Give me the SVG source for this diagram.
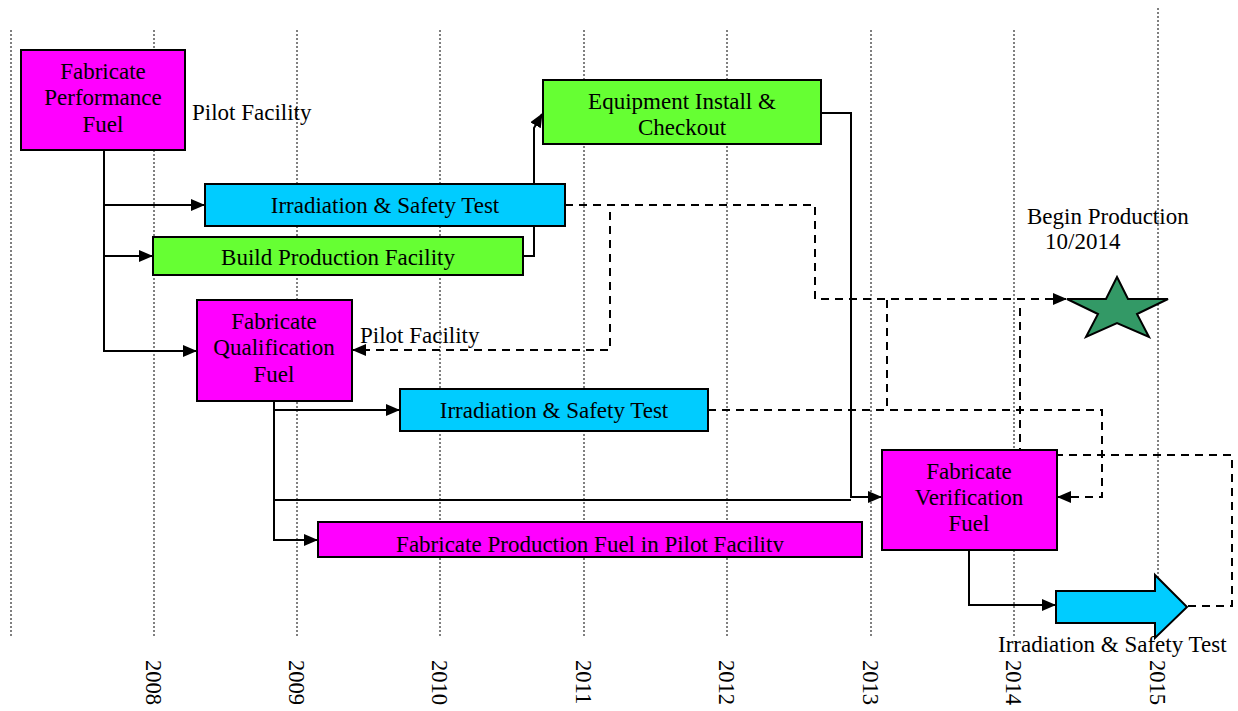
<svg xmlns="http://www.w3.org/2000/svg" width="1238" height="711" viewBox="0 0 1238 711">
<style>
.grid{stroke:#000;stroke-width:1;stroke-dasharray:2,2;fill:none}
.box{stroke:#000;stroke-width:2}
.mag{fill:#FF00FF}
.cyan{fill:#00CCFF}
.green{fill:#66FF33}
.t{font-family:"Liberation Serif","Times New Roman",serif;font-size:23px;fill:#000}
.c{text-anchor:middle}
.solid{stroke:#000;stroke-width:2;fill:none}
.dash{stroke:#000;stroke-width:2;fill:none;stroke-dasharray:8,6}
.yr{font-family:"Liberation Serif","Times New Roman",serif;font-size:22.5px;fill:#000}
</style>
<defs>
<marker id="ah" markerUnits="userSpaceOnUse" markerWidth="14" markerHeight="12" refX="13" refY="6" orient="auto">
<path d="M0,0 L14,6 L0,12 Z" fill="#000"/>
</marker>
<clipPath id="clipFP"><rect x="318" y="522" width="544" height="30"/></clipPath>
</defs>
<rect width="1238" height="711" fill="#fff"/>
<g id="grid">
<line class="grid" x1="11" y1="30" x2="11" y2="636"/>
<line class="grid" x1="154" y1="30" x2="154" y2="636"/>
<line class="grid" x1="297" y1="30" x2="297" y2="636"/>
<line class="grid" x1="440" y1="30" x2="440" y2="636"/>
<line class="grid" x1="584" y1="30" x2="584" y2="636"/>
<line class="grid" x1="727" y1="30" x2="727" y2="636"/>
<line class="grid" x1="871" y1="30" x2="871" y2="636"/>
<line class="grid" x1="1014" y1="30" x2="1014" y2="636"/>
<line class="grid" x1="1158" y1="8" x2="1158" y2="636"/>
</g>
<g id="years">
<text class="yr" transform="translate(146,660) rotate(90)">2008</text>
<text class="yr" transform="translate(289,660) rotate(90)">2009</text>
<text class="yr" transform="translate(432,660) rotate(90)">2010</text>
<text class="yr" transform="translate(576,660) rotate(90)">2011</text>
<text class="yr" transform="translate(719,660) rotate(90)">2012</text>
<text class="yr" transform="translate(863,660) rotate(90)">2013</text>
<text class="yr" transform="translate(1006,660) rotate(90)">2014</text>
<text class="yr" transform="translate(1150,660) rotate(90)">2015</text>
</g>
<g id="connectors">
<path class="solid" d="M104,150 V351 H196" marker-end="url(#ah)"/>
<path class="solid" d="M104,205 H204" marker-end="url(#ah)"/>
<path class="solid" d="M104,256 H152" marker-end="url(#ah)"/>
<path class="solid" d="M523,256 H534 V128 L542,114" marker-end="url(#ah)"/>
<path class="solid" d="M821,113 H851 V497 H881" marker-end="url(#ah)"/>
<path class="solid" d="M274,401 V540 H317" marker-end="url(#ah)"/>
<path class="solid" d="M274,410 H399" marker-end="url(#ah)"/>
<path class="solid" d="M274,500 H851"/>
<path class="solid" d="M969,550 V605 H1055" marker-end="url(#ah)"/>
<path class="dash" d="M565,205 H815 V299 H1066" marker-end="url(#ah)"/>
<path class="dash" d="M610,212 V350 H353" marker-end="url(#ah)"/>
<path class="dash" d="M708,410 H1102 V497 H1058" marker-end="url(#ah)"/>
<path class="dash" d="M887,300 V410"/>
<path class="dash" d="M1188,606 H1232 V455 H1020 V303"/>
</g>
<g id="perf-fuel">
<rect class="box mag" x="21" y="50" width="164" height="100"/>
<text class="t c" x="103" y="79">Fabricate</text>
<text class="t c" x="103" y="105">Performance</text>
<text class="t c" x="103" y="132">Fuel</text>
</g>
<g id="pilot-label-1"><text class="t" x="192" y="120">Pilot Facility</text></g>
<g id="irr-1">
<rect class="box cyan" x="205" y="184" width="360" height="42"/>
<text class="t c" x="385" y="213">Irradiation &amp; Safety Test</text>
</g>
<g id="build">
<rect class="box green" x="153" y="237" width="370" height="38"/>
<text class="t c" x="338" y="265">Build Production Facility</text>
</g>
<g id="equip">
<rect class="box green" x="543" y="80" width="278" height="64"/>
<text class="t c" x="682" y="109">Equipment Install &amp;</text>
<text class="t c" x="682" y="135">Checkout</text>
</g>
<g id="qual-fuel">
<rect class="box mag" x="197" y="300" width="155" height="101"/>
<text class="t c" x="274" y="329">Fabricate</text>
<text class="t c" x="274" y="355">Qualification</text>
<text class="t c" x="274" y="382">Fuel</text>
</g>
<g id="pilot-label-2"><text class="t" x="360" y="343">Pilot Facility</text></g>
<g id="irr-2">
<rect class="box cyan" x="400" y="389" width="308" height="42"/>
<text class="t c" x="554" y="418">Irradiation &amp; Safety Test</text>
</g>
<g id="prod-fuel">
<rect class="box mag" x="318" y="522" width="544" height="35"/>
<text class="t c" x="590" y="552" clip-path="url(#clipFP)">Fabricate Production Fuel in Pilot Facility</text>
</g>
<g id="verif-fuel">
<rect class="box mag" x="882" y="450" width="175" height="100"/>
<text class="t c" x="969" y="479">Fabricate</text>
<text class="t c" x="969" y="505">Verification</text>
<text class="t c" x="969" y="531">Fuel</text>
</g>
<g id="irr-3">
<polygon class="box cyan" points="1056,591 1155,591 1155,575 1187,607 1155,638 1155,623 1056,623"/>
<text class="t" x="998" y="652">Irradiation &amp; Safety Test</text>
</g>
<g id="star">
<polygon points="1117,277 1128,299 1168,299 1137,314 1149,337 1117,323 1086,337 1098,314 1067,299 1106,299" fill="#339966" stroke="#000" stroke-width="2" stroke-linejoin="miter"/>
<text class="t" x="1027" y="224">Begin Production</text>
<text class="t" x="1045" y="249">10/2014</text>
</g>
</svg>
